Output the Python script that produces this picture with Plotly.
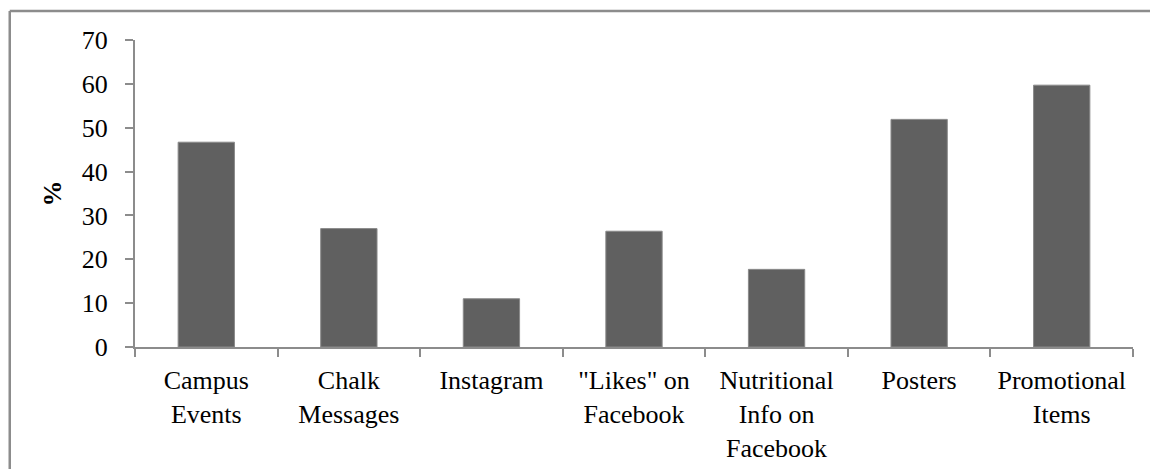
import plotly.graph_objects as go

categories = ["Campus<br>Events", "Chalk<br>Messages", "Instagram", "\"Likes\" on<br>Facebook",
              "Nutritional<br>Info on<br>Facebook", "Posters", "Promotional<br>Items"]
values = [46.7, 27.0, 11.0, 26.4, 17.7, 51.9, 59.7]
y_ticks = [0, 10, 20, 30, 40, 50, 60, 70]

FONT = "Liberation Serif"
AXIS_COLOR = "#8c8c8c"

fig = go.Figure()
fig.add_trace(go.Bar(
    x=categories, y=values,
    marker=dict(color="#606060", line=dict(color="#8a8a8a", width=1)),
    hoverinfo="x+y",
))

fig.update_layout(
    width=1150, height=469,
    margin=dict(l=135, r=17, t=40, b=122),
    paper_bgcolor="white", plot_bgcolor="white",
    bargap=0.605,
    showlegend=False,
    font=dict(family=FONT, size=26, color="black"),
    xaxis=dict(
        type="category", automargin=False,
        showline=True, linecolor=AXIS_COLOR, linewidth=2,
        ticks="outside", tickson="boundaries", ticklen=8, tickwidth=2, tickcolor=AXIS_COLOR,
        tickfont=dict(family=FONT, size=26, color="black"),
        ticklabelstandoff=9,
        showgrid=False, zeroline=False,
    ),
    yaxis=dict(
        automargin=False,
        range=[0, 70], tickvals=y_ticks, ticktext=[str(v) for v in y_ticks],
        showline=True, linecolor=AXIS_COLOR, linewidth=2,
        ticks="outside", ticklen=8, tickwidth=2, tickcolor=AXIS_COLOR,
        tickfont=dict(family=FONT, size=26, color="black"),
        ticklabelstandoff=12,
        showgrid=False, zeroline=False,
        title=dict(text="<b>%</b>", font=dict(family=FONT, size=26, color="black"), standoff=13),
    ),
    shapes=[
        dict(type="line", xref="paper", yref="paper", x0=-0.1255, x1=1.05, y0=1.0945, y1=1.0945,
             line=dict(color="#8c8c8c", width=2.5)),
        dict(type="line", xref="paper", yref="paper", x0=-0.1255, x1=-0.1255, y0=1.0945, y1=-0.5,
             line=dict(color="#8c8c8c", width=2.5)),
    ],
)

fig.write_html("out.html")
